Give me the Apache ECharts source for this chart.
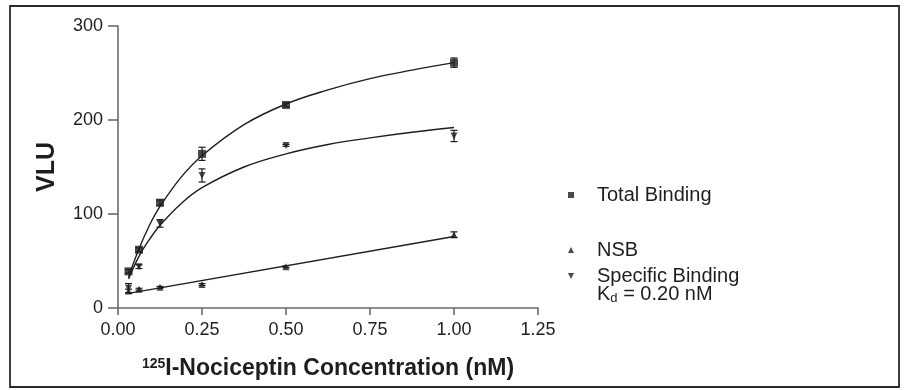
<!DOCTYPE html>
<html>
<head>
<meta charset="utf-8">
<script src="https://cdn.jsdelivr.net/npm/echarts@6/dist/echarts.min.js"></script>
<style>
html,body{margin:0;padding:0;background:#fff;}
#c{width:905px;height:390px;}
</style>
</head>
<body>
<div id="c"></div>
<script>
// Measured data (concentration in nM, VLU)
const conc = [0.03125, 0.0625, 0.125, 0.25, 0.5, 1.0];
const totalMean = [39, 62, 112, 164, 216, 261];
const totalErr  = [2, 2, 3, 7, 2, 5];
const nsbMean   = [18, 20, 22, 25, 44, 78];
const nsbErr    = [2, 1, 1, 1, 1, 3];
const specMean  = [21, 44, 90, 141, 173, 183];
const specErr   = [5, 2, 4, 7, 1, 6];

// Fitted curves
const fitX     = [0.03125, 0.0625, 0.09375, 0.125, 0.1875, 0.25, 0.375, 0.5, 0.625, 0.75, 0.875, 1.0];
const totalFit = [33, 63, 88, 108, 139, 162, 195, 217, 232, 244, 253, 261];
const specFit  = [31, 55, 73, 88, 111, 128, 150, 164, 174, 181, 187, 192];
const nsbFitX  = [0.03125, 1.0];
const nsbFit   = [15.6, 76];

const xTicks = [0, 0.25, 0.5, 0.75, 1.0, 1.25];
const yTicks = [0, 100, 200, 300];

const ink = '#1e1e1e';
const axisCol = '#6b6b6b';
const font = 'Liberation Sans, Arial, sans-serif';

const pairs = (xs, ys) => xs.map((x, i) => [x, ys[i]]);
const errData = (m, e) => conc.map((x, i) => [x, m[i] - e[i], m[i] + e[i]]);

function errRender(params, api) {
  const x = api.value(0);
  const lo = api.coord([x, api.value(1)]);
  const hi = api.coord([x, api.value(2)]);
  const w = 3.5;
  const st = { stroke: ink, lineWidth: 1.2 };
  return {
    type: 'group',
    children: [
      { type: 'line', shape: { x1: lo[0], y1: lo[1], x2: hi[0], y2: hi[1] }, style: st },
      { type: 'line', shape: { x1: lo[0] - w, y1: lo[1], x2: lo[0] + w, y2: lo[1] }, style: st },
      { type: 'line', shape: { x1: hi[0] - w, y1: hi[1], x2: hi[0] + w, y2: hi[1] }, style: st }
    ]
  };
}

const downTri = 'path://M0,0 L10,0 L5,10 Z';

const legendBase = {
  orient: 'vertical',
  left: 563,
  itemWidth: 6,
  itemHeight: 6,
  selectedMode: false,
  textStyle: { fontFamily: font, fontSize: 20, color: ink, padding: [0, 0, 0, 18], lineHeight: 22 }
};

const option = {
  animation: false,
  backgroundColor: '#fff',
  grid: { left: 118, top: 26, width: 420, height: 282, containLabel: false },
  xAxis: {
    type: 'value', min: 0, max: 1.25, interval: 0.25,
    axisLine: { show: true, onZero: false, lineStyle: { color: axisCol, width: 1.6 } },
    axisTick: { show: true, length: 7, lineStyle: { color: axisCol, width: 1.6 } },
    axisLabel: { margin: 13, fontFamily: font, fontSize: 18, color: ink,
      formatter: v => xTicks.includes(v) ? v.toFixed(2) : '' },
    splitLine: { show: false },
    name: '{sup|125}{t|I-Nociceptin Concentration (nM)}',
    nameLocation: 'middle', nameGap: 49,
    nameTextStyle: {
      rich: {
        sup: { fontFamily: font, fontWeight: 'bold', fontSize: 14, color: ink, verticalAlign: 'top', padding: [0, 0, 10, 0] },
        t: { fontFamily: font, fontWeight: 'bold', fontSize: 23, color: ink }
      }
    }
  },
  yAxis: {
    type: 'value', min: 0, max: 300, interval: 100,
    axisLine: { show: true, lineStyle: { color: axisCol, width: 1.6 } },
    axisTick: { show: true, length: 10, lineStyle: { color: axisCol, width: 1.6 } },
    axisLabel: { margin: 15, fontFamily: font, fontSize: 18, color: ink,
      formatter: v => yTicks.includes(v) ? String(v) : '' },
    splitLine: { show: false },
    name: 'VLU', nameLocation: 'middle', nameGap: 58, nameRotate: 90,
    nameTextStyle: { fontFamily: font, fontWeight: 'bold', fontSize: 25, color: ink }
  },
  legend: [
    Object.assign({}, legendBase, { top: 179, data: [{ name: 'Total Binding', icon: 'rect' }] }),
    Object.assign({}, legendBase, { top: 234, data: [{ name: 'NSB', icon: 'triangle' }] }),
    Object.assign({}, legendBase, { top: 260, data: [{ name: 'Specific Binding', icon: downTri }] })
  ],
  graphic: [
    { type: 'rect', shape: { x: 10, y: 6, width: 889, height: 381 },
      style: { fill: 'none', stroke: '#2a2a2a', lineWidth: 1.8 }, silent: true },
    { type: 'text', left: 597, top: 284,
      style: {
        text: '{a|K}{b|d}{a| = 0.20 nM}',
        rich: {
          a: { fontFamily: font, fontSize: 20, fill: ink },
          b: { fontFamily: font, fontSize: 13, fill: ink, verticalAlign: 'bottom', padding: [9, 0, 0, 0] }
        }
      } }
  ],
  series: [
    { name: 'TotalFit', type: 'line', data: pairs(fitX, totalFit), smooth: 0.4, showSymbol: false,
      lineStyle: { color: ink, width: 1.4 }, silent: true, z: 2 },
    { name: 'SpecFit', type: 'line', data: pairs(fitX, specFit), smooth: 0.4, showSymbol: false,
      lineStyle: { color: ink, width: 1.4 }, silent: true, z: 2 },
    { name: 'NsbFit', type: 'line', data: pairs(nsbFitX, nsbFit), showSymbol: false,
      lineStyle: { color: ink, width: 1.4 }, silent: true, z: 2 },
    { name: 'TotalErr', type: 'custom', renderItem: errRender, data: errData(totalMean, totalErr), z: 3 },
    { name: 'NsbErr', type: 'custom', renderItem: errRender, data: errData(nsbMean, nsbErr), z: 3 },
    { name: 'SpecErr', type: 'custom', renderItem: errRender, data: errData(specMean, specErr), z: 3 },
    { name: 'Total Binding', type: 'scatter', data: pairs(conc, totalMean), symbol: 'rect', symbolSize: 8,
      itemStyle: { color: ink }, z: 4 },
    { name: 'NSB', type: 'scatter', data: pairs(conc, nsbMean), symbol: 'triangle', symbolSize: 7,
      itemStyle: { color: ink }, z: 4 },
    { name: 'Specific Binding', type: 'scatter', data: pairs(conc, specMean), symbol: downTri, symbolSize: 7,
      itemStyle: { color: ink }, z: 4 }
  ]
};

const chart = echarts.init(document.getElementById('c'), null, { renderer: 'canvas' });
chart.setOption(option);
</script>
</body>
</html>
